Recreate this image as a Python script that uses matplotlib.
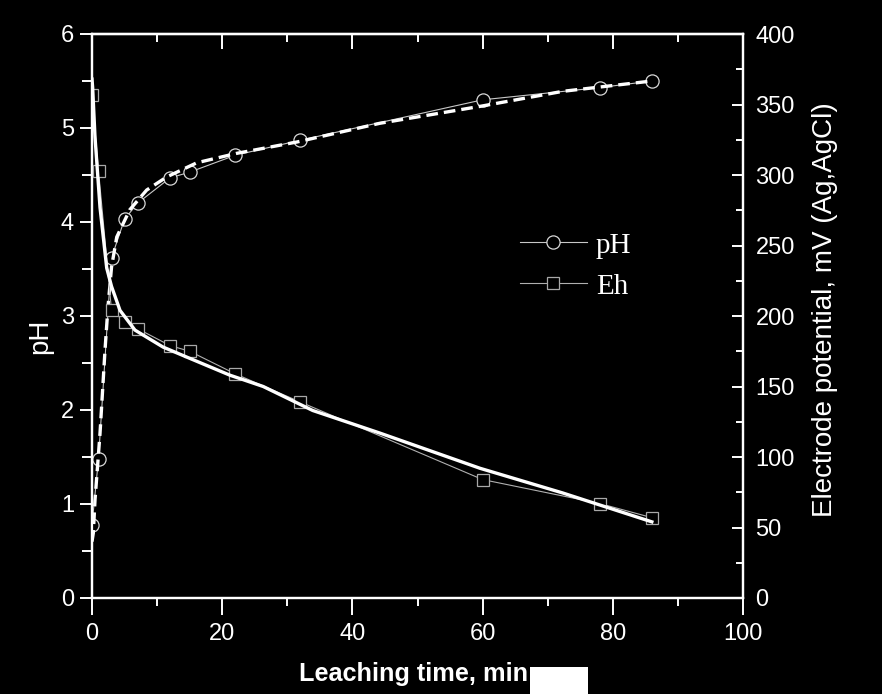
import matplotlib
matplotlib.use('Agg')
import matplotlib.pyplot as plt
from matplotlib.patches import Rectangle
from matplotlib.ticker import MultipleLocator

# measured points
time = [0, 1, 3, 5, 7, 12, 15, 22, 32, 60, 78, 86]
ph = [0.78, 1.48, 3.62, 4.03, 4.20, 4.47, 4.53, 4.71, 4.87, 5.30, 5.43, 5.50]
eh = [357, 303, 204, 196, 191, 179, 175, 159, 139, 84, 67, 57]

# fitted curves
ph_fit_t = [0.0, 0.2, 0.46, 1.23, 2.0, 2.46, 3.0, 3.8, 5.8, 8.4, 11.5, 16.1, 22.2, 31.4, 44.2, 59.6, 72.3, 86.0]
ph_fit = [0.60, 0.69, 1.04, 1.75, 2.64, 3.10, 3.52, 3.84, 4.13, 4.34, 4.48, 4.63, 4.73, 4.85, 5.05, 5.23, 5.39, 5.50]
eh_fit_t = [0.0, 0.1, 0.46, 1.23, 2.26, 3.0, 4.3, 6.6, 10.9, 15.0, 21.2, 26.3, 33.9, 44.2, 59.6, 72.3, 86.0]
eh_fit = [368, 362, 327, 277, 234, 221, 204, 190, 178, 170, 158, 150, 133, 117, 92, 74.5, 54]

sans = ['Liberation Sans Narrow', 'Liberation Sans', 'DejaVu Sans']
plt.rcParams['font.family'] = sans

fig = plt.figure(figsize=(8.82, 6.94), dpi=100, facecolor='black')
ax = fig.add_axes([92/882, 1-598/694, 651/882, 564/694])
ax.set_facecolor('black')
ax2 = ax.twinx()

l1, = ax.plot(time, ph, '-', color='#c8c8c8', lw=0.8, marker='o', ms=9.5,
              mfc='black', mec='#d8d8d8', mew=0.9, label='pH', zorder=3)
ax.plot(ph_fit_t, ph_fit, color='white', lw=2.4, dashes=(3.5, 1.8), zorder=4)
l2, = ax2.plot(time, eh, '-', color='#b0b0b0', lw=0.8, marker='s', ms=8.5,
               mfc='black', mec='#a8a8a8', mew=0.9, label='Eh', zorder=3)
ax2.plot(eh_fit_t, eh_fit, color='white', lw=2.4, zorder=4)

ax.set_xlim(0, 100)
ax.set_ylim(0, 6)
ax2.set_ylim(0, 400)

for a in (ax, ax2):
    for s in a.spines.values():
        s.set_color('white')
        s.set_linewidth(1.6)

ax.xaxis.set_major_locator(MultipleLocator(20))
ax.xaxis.set_minor_locator(MultipleLocator(10))
ax.yaxis.set_major_locator(MultipleLocator(1))
ax.yaxis.set_minor_locator(MultipleLocator(0.5))
ax2.yaxis.set_major_locator(MultipleLocator(50))
ax2.yaxis.set_minor_locator(MultipleLocator(25))

ax.tick_params(axis='x', which='both', direction='out', colors='white',
               labelsize=17, width=1.4, pad=6)
ax.tick_params(axis='x', which='major', length=12)
ax.tick_params(axis='x', which='minor', length=6)
ax.tick_params(axis='y', which='both', direction='out', colors='white',
               labelsize=17, width=1.4, pad=4, right=False)
ax.tick_params(axis='y', which='major', length=9)
ax.tick_params(axis='y', which='minor', length=7)
ax2.tick_params(axis='y', which='both', direction='in', colors='white',
                labelsize=17, width=1.4, pad=9)
ax2.tick_params(axis='y', which='major', length=8)
ax2.tick_params(axis='y', which='minor', length=5)

top = ax.secondary_xaxis('top')
top.xaxis.set_major_locator(MultipleLocator(20))
top.xaxis.set_minor_locator(MultipleLocator(10))
top.tick_params(which='both', direction='in', colors='white', labeltop=False, width=1.4)
top.tick_params(which='major', length=11)
top.tick_params(which='minor', length=6)
top.spines['top'].set_color('white')
top.spines['top'].set_linewidth(1.6)

fig.text(40/882, 1-336/694, 'pH', rotation=90, ha='center', va='center',
         color='white', fontsize=20, family=['Liberation Sans', 'DejaVu Sans'])
fig.text(825/882, 1-310/694, 'Electrode potential, mV (Ag,AgCl)', rotation=90,
         ha='center', va='center', color='white', fontsize=20,
         family=['Liberation Sans', 'DejaVu Sans'])
fig.text(414/882, 1-674/694, 'Leaching time, min', ha='center', va='center',
         color='white', fontsize=18.2, fontweight='bold',
         family=['Liberation Sans', 'DejaVu Sans'])

leg = ax.legend(handles=[l1, l2], loc='upper left', bbox_to_anchor=(0.617, 0.695),
                frameon=False, handlelength=2.3, handletextpad=0.3, labelspacing=0.5,
                prop={'family': ['Liberation Serif', 'DejaVu Serif'], 'size': 21})
for t in leg.get_texts():
    t.set_color('white')

fig.patches.append(Rectangle((530/882, 0), 58/882, 27/694, transform=fig.transFigure,
                             facecolor='white', edgecolor='none'))

fig.savefig('out.png', dpi=100, facecolor='black')
